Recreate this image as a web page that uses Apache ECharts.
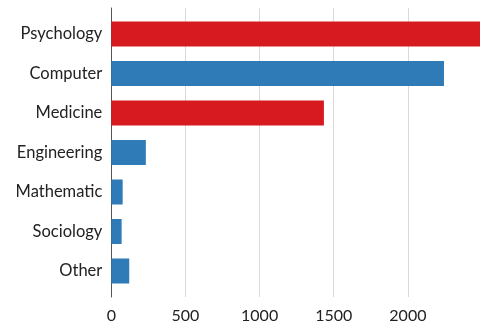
<!DOCTYPE html>
<html>
<head>
<meta charset="utf-8">
<script src="https://cdn.jsdelivr.net/npm/echarts@6/dist/echarts.min.js"></script>
<style>
  html, body { margin: 0; padding: 0; background: #fff; }
  #chart { width: 480px; height: 326px; }
</style>
</head>
<body>
<div id="chart"></div>
<script>
// Publications per field
const categories = ['Psychology', 'Computer', 'Medicine', 'Engineering', 'Mathematic', 'Sociology', 'Other'];
const counts = [2470, 2225, 1422, 231, 76, 69, 120];
const highlighted = ['Psychology', 'Medicine'];
const xTicks = [0, 500, 1000, 1500, 2000];

const RED = '#d71a1f';
const BLUE = '#2e7bb7';
// plot runs slightly past the right edge of the canvas, so the last bar is cut off
const X_MAX = 2466;
const FONT = 'Lato, "Open Sans", sans-serif';

const chart = echarts.init(document.getElementById('chart'), null, { renderer: 'canvas' });

chart.setOption({
  animation: false,
  backgroundColor: '#fff',
  grid: [
    // bars
    { left: 111.3, right: -2, top: 14.25, height: 276.5, containLabel: false },
    // gridlines, axis line and tick labels
    { left: 111.3, right: -2, top: 8, bottom: 29, containLabel: false }
  ],
  xAxis: [
    {
      gridIndex: 0, type: 'value', min: 0, max: X_MAX, interval: 500,
      show: false
    },
    {
      gridIndex: 1, type: 'value', min: 0, max: X_MAX, interval: 500,
      axisLine: { show: false },
      axisTick: { show: false },
      splitLine: { show: true, showMinLine: false, showMaxLine: false, lineStyle: { color: '#d9d9d9', width: 1 } },
      axisLabel: {
        margin: 11, fontSize: 16, color: '#222', fontFamily: FONT,
        formatter: v => (xTicks.includes(v) ? String(v) : '')
      }
    }
  ],
  yAxis: [
    {
      gridIndex: 0, type: 'category', data: categories, inverse: true,
      axisLine: { show: false },
      axisTick: { show: false },
      splitLine: { show: false },
      axisLabel: { margin: 9, fontSize: 16.5, color: '#222', fontFamily: FONT }
    },
    {
      gridIndex: 1, type: 'category', data: [''],
      axisLine: { show: true, lineStyle: { color: '#555', width: 1 } },
      axisTick: { show: false },
      axisLabel: { show: false },
      splitLine: { show: false }
    }
  ],
  series: [
    {
      type: 'bar',
      xAxisIndex: 0, yAxisIndex: 0,
      barWidth: 25,
      clip: true,
      data: categories.map((c, i) => ({
        value: counts[i],
        itemStyle: { color: highlighted.includes(c) ? RED : BLUE }
      }))
    }
  ]
});
</script>
</body>
</html>
